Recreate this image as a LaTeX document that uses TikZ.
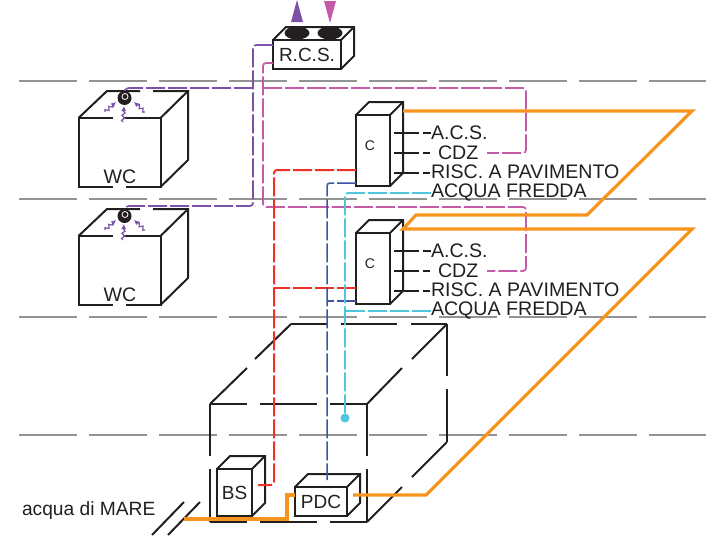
\documentclass[tikz,border=0pt]{standalone}
\usepackage{fontspec}
\setmainfont{Liberation Sans}
\usetikzlibrary{decorations.pathmorphing,arrows.meta}

\definecolor{inkblack}{HTML}{231F20}
\definecolor{floorgray}{HTML}{939393}
\definecolor{fancoil}{HTML}{7B52A8}
\definecolor{chiller}{HTML}{C45BA8}
\definecolor{hotpipe}{HTML}{EE3124}
\definecolor{bluepipe}{HTML}{3B54A4}
\definecolor{coldpipe}{HTML}{4FC6DC}
\definecolor{seapipe}{HTML}{F7941D}

\tikzset{
  wall/.style={draw=inkblack, line width=2pt, line join=miter},
  front/.style={wall, fill=white, inner sep=0pt, outer sep=0pt, font=\fontsize{19}{21}\selectfont, text=inkblack},
  tag/.style={inner sep=0pt, outer sep=0pt, anchor=west, font=\fontsize{19.6}{21}\selectfont, text=inkblack},
  floorline/.style={draw=floorgray, line width=2pt, dash pattern=on 58pt off 12pt},
  feeder/.style={draw=inkblack, line width=2pt, dash pattern=on 25pt off 4pt},
  pipe/.style={rounded corners=3pt, dash pattern=on 19pt off 3pt},
  purplepipe/.style={pipe, draw=fancoil, line width=1.7pt},
  pinkpipe/.style={pipe, draw=chiller, line width=1.7pt},
  redpipe/.style={pipe, draw=hotpipe, line width=2pt},
  bluedash/.style={pipe, draw=bluepipe, line width=1.5pt},
  cyanpipe/.style={pipe, draw=coldpipe, line width=1.9pt},
  orangepipe/.style={draw=seapipe, line width=3.2pt, line join=miter},
  waft/.style={draw=fancoil, line width=1.2pt, -{Latex[length=5pt,width=5pt]},
    decorate, decoration={snake, amplitude=1.6pt, segment length=5pt, post length=4pt}},
}

% name, left, top, width, height, text
\newcommand{\solidbox}[6]{
  \node[front, anchor=north west, minimum width=#4pt, minimum height=#5pt] (#1) at (#2,#3) {#6};
  \draw[wall] (#1.north west) -- ++(13,-13) -- ++(#4,0) -- ++(0,#5) -- (#1.south east);
  \draw[wall] (#1.north east) -- ++(13,-13);
}

\begin{document}
\begin{tikzpicture}[x=1pt, y=-1pt]
\useasboundingbox (0,0) rectangle (706,549);

% floors
\foreach \yy in {81,199,317,435}
  \draw[floorline] (19,\yy) -- (706,\yy);

% building shell: x1/y1/x2/y2
\foreach \xa/\ya/\xb/\yb in {
  291/324/327/324, 341/324/397/324, 411/324/447/324,
  210/404/247/404, 260/404/317/404, 330/404/367/404,
  210/522/247/522, 260/522/317/522, 330/522/367/522,
  210/404/210/456, 210/469/210/522,
  367/404/367/456, 367/469/367/522,
  447/324/447/376, 447/389/447/442,
  291/324/255/359, 247/368/210/404,
  447/324/412/359, 402/368/367/404,
  447/442/412/477, 402/487/367/522}
  \draw[wall, line cap=butt] (\xa,\ya) -- (\xb,\yb);

% sea inlet
\coordinate (seaA) at (152,535);
\coordinate (seaB) at (184,502);
\coordinate (seaC) at (168,535);
\coordinate (seaD) at (200,502);
\coordinate (seaIn) at (184,519);
\draw[wall] (seaA) -- (seaB);
\draw[wall] (seaC) -- (seaD);
\node[tag, font=\fontsize{19.2}{21}\selectfont] (seaTag) at (22,511) {acqua di MARE};

% dwelling units, one per floor
\foreach \n/\dy in {A/0,B/118}
{
  % bathroom block, edges broken where the pipes pass
  \node[inner sep=0pt, outer sep=0pt, minimum width=82pt, minimum height=69pt] (wc\n) at (119.5,152.5+\dy) {};
  \node[tag, anchor=center] (wcTag\n) at (120,177+\dy) {WC};
  \draw[wall] (113,118+\dy) -- (wc\n.north west) -- (wc\n.south west) -- (113,187+\dy);
  \draw[wall] (126,187+\dy) -- (wc\n.south east) -- (wc\n.north east) -- (123,118+\dy);
  \draw[wall] (wc\n.north west) -- (107,91+\dy) -- (140,91+\dy);
  \draw[wall] (153,91+\dy) -- (188,91+\dy) -- (188,160+\dy) -- (wc\n.south east);
  \draw[wall] (wc\n.north east) -- (188,91+\dy);
  \node[circle, fill=inkblack, inner sep=0pt, minimum size=14pt] (vent\n) at (124.5,98+\dy) {};
  \draw[white, line width=0.8pt] (125,96.5+\dy) circle (3pt);
  \draw[waft] (123,122+\dy) -- (124,106+\dy);
  \draw[waft] (105,112+\dy) -- (116,102+\dy);
  \draw[waft] (145,112+\dy) -- (134,102+\dy);

  % heat exchanger block
  \solidbox{c\n}{356}{115+\dy}{34}{71}{\fontsize{14}{16}\selectfont\raisebox{9pt}{\hspace*{-6pt}C}}

  % services
  \node[tag] (acs\n) at (431,133+\dy) {A.C.S.};
  \node[tag] (cdz\n) at (438,153+\dy) {CDZ};
  \node[tag] (risc\n) at (431,172+\dy) {RISC. A PAVIMENTO};
  \node[tag] (fredda\n) at (431,192.5+\dy) {ACQUA FREDDA};
  \draw[feeder] (394,133+\dy) -- (acs\n.west);
  \draw[feeder] (394,153+\dy) -- ([xshift=-8pt]cdz\n.west);
  \draw[feeder] (394,173+\dy) -- (430,173+\dy);
}

% roof unit
\solidbox{rcs}{273}{40}{68}{29}{R.C.S.}
\fill[inkblack] (297,33) ellipse (12.5pt and 6.5pt);
\fill[inkblack] (330,33) ellipse (12.5pt and 6.5pt);
\fill[fancoil] (291,22) -- (297,0) -- (303,22) -- cycle;
\fill[chiller] (324,1) -- (336,1) -- (330,23) -- cycle;

% plant room
\solidbox{bs}{217}{469}{35}{47}{BS}
\solidbox{pdc}{295}{487}{52}{29}{PDC}

% fancoil circuit
\draw[purplepipe] ([yshift=-5pt]rcs.north west) -- (253,45) -- (253,206) -- (126,206) -- (ventB.north);
\draw[purplepipe] (253,88) -- (126,88) -- (ventA.north);

% chilled circuit
\draw[pinkpipe] ([yshift=6pt]rcs.south west) -- (263,63) -- (263,207) -- (526,207) -- (526,271) -- (487,271);
\draw[pinkpipe] (263,88) -- (526,88) -- (526,153) -- (487,153);

% heating
\coordinate (hotEnd) at (258,485);
\draw[redpipe] ([yshift=16pt]cA.south west) -- (274,170) -- (274,485) -- (hotEnd);
\draw[redpipe] ([yshift=16pt]cB.south west) -- (274,288);

% supply to PDC
\draw[bluedash] ([yshift=3pt]cA.south west) -- (327,183) -- (327,480);
\draw[bluedash] ([yshift=3pt]cB.south west) -- (327,301);

% cold water
\node[circle, fill=coldpipe, inner sep=0pt, minimum size=9pt] (coldDot) at (345,418) {};
\draw[cyanpipe] ([yshift=-0.5pt]freddaA.west) -- (345,193) -- (coldDot.north);
\draw[cyanpipe] ([yshift=-0.5pt]freddaB.west) -- (345,311);

% sea water loop
\coordinate (loopA) at (403,111);
\coordinate (loopB) at (403,229);
\draw[orangepipe] (loopA) -- (692,111) -- (587,215) -- (416,215) -- (loopB) -- (692,229) -- (426,495) -- ([xshift=6pt,yshift=-8pt]pdc.north east);
\draw[orangepipe] (seaIn) -- (287,519) -- (287,495) -- ([yshift=-8pt]pdc.north west);

\end{tikzpicture}
\end{document}
